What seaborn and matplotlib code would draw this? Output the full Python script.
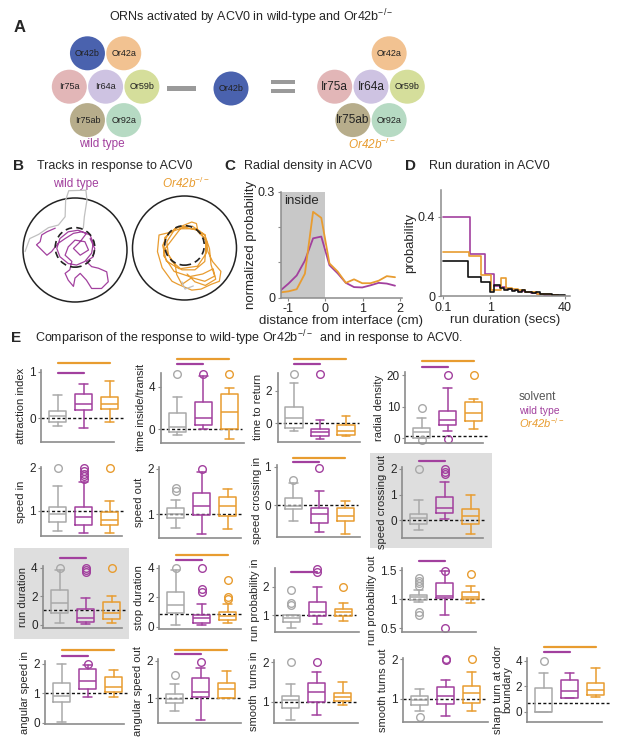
import numpy as np
import pandas as pd
import seaborn as sns
import matplotlib.pyplot as plt
from matplotlib.patches import Ellipse, Rectangle, Circle
from matplotlib.ticker import NullLocator
from matplotlib.transforms import blended_transform_factory

sns.set_style("ticks")
plt.rcParams['font.family'] = ['Liberation Sans', 'DejaVu Sans']
plt.rcParams['mathtext.fontset'] = 'custom'
plt.rcParams['mathtext.rm'] = 'Liberation Sans'
plt.rcParams['mathtext.it'] = 'Liberation Sans:italic'

MAG = '#a2409e'
ORA = '#e89c30'
GRY = '#a9a9a9'
AXC = '#8c8c8c'

# ---- panel A: ORNs
orn_names = ['Or42b', 'Or42a', 'Ir75a', 'Ir64a', 'Or59b', 'Ir75ab', 'Or92a']
orn_colors = ['#4a62ae', '#f2c291', '#e2b6b7', '#cec3e2', '#d5de9b', '#b7ad8b', '#b6dac3']
orn_slots = [(0.5, 0), (1.5, 0), (0, 1), (1, 1), (2, 1), (0.5, 2), (1.5, 2)]
orn_big_in_mutant = ['Ir75a', 'Ir64a', 'Ir75ab']

# ---- panel B: example tracks (arena radius = 1)
solvent_track = [(-0.96, -0.03), (-0.87, 0.22), (-0.70, 0.30), (-0.51, 0.43), (-0.32, 0.48),
                 (-0.19, 0.64), (-0.18, 0.96), (-0.12, 1.14), (0.21, 1.15), (0.23, 0.96),
                 (0.18, 0.64), (0.16, 0.42)]
wt_track = [(-0.38, 0.42), (-0.54, 0.35), (-0.64, 0.29), (-0.67, 0.16), (-0.74, 0.10), (-0.64, 0.0),
            (-0.54, -0.10), (-0.45, -0.03), (-0.38, 0.06), (-0.32, 0.13), (-0.19, 0.22), (-0.03, 0.32),
            (0.13, 0.35), (0.29, 0.29), (0.35, 0.13), (0.32, -0.06), (0.19, -0.22), (0.03, -0.29),
            (-0.13, -0.26), (-0.29, -0.13), (-0.35, 0.03), (-0.29, 0.22), (-0.13, 0.35), (0.06, 0.38),
            (0.22, 0.32), (0.10, 0.16), (-0.03, 0.03), (0.10, -0.10), (0.26, 0.0), (0.19, 0.16),
            (0.0, 0.19), (-0.13, 0.06), (-0.19, -0.10), (-0.06, -0.22), (-0.10, -0.38), (-0.19, -0.45),
            (-0.13, -0.58), (-0.03, -0.70), (0.0, -0.54), (0.10, -0.45), (0.22, -0.58), (0.32, -0.74),
            (0.51, -0.74), (0.64, -0.61), (0.61, -0.42), (0.45, -0.35), (0.32, -0.32), (0.22, -0.22),
            (0.35, -0.13), (0.38, 0.03), (0.29, 0.22)]
mut_track = [(-0.24, 0.31), (-0.49, 0.25), (-0.52, -0.07), (-0.43, -0.38), (-0.24, -0.64), (-0.12, -0.70),
             (0.14, -0.81), (0.32, -0.79), (0.51, -0.70), (0.67, -0.64), (0.70, -0.45), (0.54, -0.26),
             (0.45, -0.07), (0.42, 0.15), (0.26, 0.31), (0.23, 0.47), (0.14, 0.50), (-0.18, 0.37),
             (-0.34, 0.12), (-0.31, -0.13), (-0.18, -0.32), (-0.15, -0.51), (-0.05, -0.70), (0.14, -0.57),
             (0.39, -0.64), (0.58, -0.54), (0.51, -0.32), (0.48, -0.01), (0.39, 0.25), (0.20, 0.37),
             (-0.08, 0.37), (-0.37, -0.01), (-0.24, -0.26), (-0.05, -0.42), (0.20, -0.42), (0.39, -0.26),
             (0.42, 0.12), (0.29, 0.33), (0.01, 0.40), (-0.30, 0.30), (-0.42, 0.05), (-0.35, -0.25),
             (-0.10, -0.40), (0.25, -0.35), (0.42, -0.10), (0.40, 0.25), (0.15, 0.42), (-0.15, 0.40),
             (-0.38, 0.20), (-0.40, -0.15), (-0.20, -0.45), (0.10, -0.55), (0.35, -0.50), (0.55, -0.40),
             (0.60, -0.60), (0.40, -0.72), (0.20, -0.65), (0.05, -0.50)]
mut_solvent_track = [(-0.05, -0.65), (0.01, -0.79), (0.17, -0.73)]

# ---- panel C: radial density
dist_cm = [-1.21, -0.99, -0.77, -0.55, -0.33, -0.11, 0.11, 0.33, 0.55, 0.77, 0.99, 1.21, 1.43, 1.65, 1.87]
radial_wt = [0.020, 0.040, 0.063, 0.105, 0.168, 0.173, 0.092, 0.069, 0.042, 0.030, 0.029, 0.035, 0.042, 0.040, 0.034]
radial_mut = [0.015, 0.018, 0.024, 0.068, 0.243, 0.226, 0.097, 0.074, 0.042, 0.052, 0.041, 0.041, 0.048, 0.061, 0.058]

# ---- panel D: run duration histograms
run_edges_wt = [0.1, 0.38, 0.78, 1.2, 1.6, 2.2, 3, 4, 5.5, 7.5, 10, 14, 20, 28, 40]
run_prob_wt = [0.40, 0.21, 0.11, 0.05, 0.045, 0.035, 0.03, 0.025, 0.02, 0.015, 0.01, 0.007, 0.004, 0.002]
run_edges_mut = [0.1, 0.36, 0.64, 1.05, 1.7, 2.2, 3, 4, 5.5, 7.5, 10, 14, 20, 28, 40]
run_prob_mut = [0.22, 0.20, 0.105, 0.03, 0.09, 0.04, 0.035, 0.03, 0.022, 0.018, 0.012, 0.008, 0.004, 0.002]
run_edges_solv = [0.1, 0.34, 0.64, 1.0, 1.22, 1.65, 2.0, 2.4, 2.9, 3.4, 4, 4.8, 5.7, 6.8, 8, 9.5,
                  11.5, 14, 17, 21, 26, 32, 40]
run_prob_solv = [0.175, 0.097, 0.07, 0.02, 0.055, 0.04, 0.03, 0.035, 0.025, 0.03, 0.02, 0.028, 0.018,
                 0.022, 0.014, 0.018, 0.01, 0.012, 0.008, 0.007, 0.005, 0.004]

# ---- panel E: box summaries [whislo, q1, median, q3, whishi] for solvent, wild type, Or42b-/-
attraction_stats = [[-0.17, -0.07, 0.06, 0.16, 0.50], [-0.21, 0.18, 0.31, 0.52, 0.73], [-0.07, 0.21, 0.30, 0.46, 0.80]]
attraction_fliers = [[], [], []]
time_inside_stats = [[-0.53, -0.22, 0.19, 1.50, 3.06], [0.05, 0.41, 1.09, 2.59, 5.0], [-0.94, 0.0, 1.65, 3.28, 3.84]]
time_inside_fliers = [[5.15], [5.15], [5.15]]
time_return_stats = [[-0.47, -0.31, 0.31, 1.02, 2.45], [-0.98, -0.78, -0.51, -0.35, 0.20], [-0.78, -0.72, -0.47, -0.10, 0.45]]
time_return_fliers = [[3.0], [3.0], []]
radial_stats = [[0.0, 0.0, 2.1, 3.2, 6.3], [2.3, 4.2, 5.8, 8.7, 15.8], [2.8, 5.5, 7.9, 11.6, 12.3]]
radial_fliers = [[9.7, -0.4], [20.0, -0.3], [20.0]]
speed_in_stats = [[0.53, 0.73, 0.92, 1.09, 1.59], [0.48, 0.67, 0.85, 1.09, 1.67], [0.48, 0.67, 0.79, 0.98, 1.22]]
speed_in_fliers = [[2.0], [2.0, 1.94, 1.87, 1.81, 1.75], [2.0]]
speed_out_stats = [[0.70, 0.91, 1.0, 1.13, 1.32], [0.56, 0.98, 1.19, 1.46, 1.94], [0.68, 0.95, 1.19, 1.37, 1.55]]
speed_out_fliers = [[1.57, 1.51], [2.0], []]
cross_in_stats = [[-0.43, -0.10, -0.02, 0.19, 0.57], [-0.71, -0.48, -0.24, -0.09, 0.37], [-0.77, -0.42, -0.28, -0.07, 0.10]]
cross_in_fliers = [[0.65], [0.96], []]
cross_out_stats = [[-0.39, -0.17, 0.09, 0.24, 0.78], [0.03, 0.26, 0.48, 0.91, 1.50], [-0.55, -0.17, 0.17, 0.42, 1.0]]
cross_out_fliers = [[2.0], [2.0, 1.9, 1.8], []]
run_dur_stats = [[0.12, 0.82, 1.52, 2.45, 3.85], [0.05, 0.19, 0.47, 1.12, 1.87], [0.12, 0.40, 0.82, 1.63, 2.0]]
run_dur_fliers = [[4.0], [4.0, 3.85, 3.7], [4.0]]
stop_dur_stats = [[0.11, 0.9, 1.47, 2.33, 3.84], [0.11, 0.23, 0.57, 0.79, 1.52], [0.23, 0.45, 0.75, 1.02, 1.52]]
stop_dur_fliers = [[4.0], [4.0, 2.55, 2.33], [3.17, 2.03, 1.88]]
run_in_stats = [[0.53, 0.76, 0.91, 1.0, 1.0], [0.68, 0.98, 1.09, 1.47, 2.0], [0.79, 0.98, 1.09, 1.21, 1.41]]
run_in_fliers = [[1.41, 1.35, 1.88], [2.61, 2.53], [2.0]]
run_out_stats = [[0.95, 0.98, 1.03, 1.07, 1.16], [0.72, 1.02, 1.06, 1.28, 1.48], [0.94, 1.0, 1.03, 1.12, 1.23]]
run_out_fliers = [[1.36, 1.32, 1.27, 1.23, 0.78, 0.73], [1.48, 0.5], [1.43]]
ang_in_stats = [[0.04, 0.72, 0.89, 1.34, 2.0], [0.87, 1.15, 1.41, 1.81, 1.94], [0.87, 1.05, 1.22, 1.54, 1.79]]
ang_in_fliers = [[], [2.0], []]
ang_out_stats = [[0.66, 0.87, 0.98, 1.11, 1.38], [0.42, 1.04, 1.18, 1.54, 1.80], [1.0, 1.0, 1.25, 1.42, 1.73]]
ang_out_fliers = [[1.63], [1.96], []]
smooth_in_stats = [[0.53, 0.85, 1.03, 1.15, 1.44], [0.66, 0.98, 1.25, 1.47, 1.75], [0.92, 1.02, 1.11, 1.21, 1.49]]
smooth_in_fliers = [[2.0], [2.0], []]
smooth_out_stats = [[0.7, 0.85, 0.97, 1.08, 1.26], [0.57, 0.86, 1.06, 1.29, 1.49], [0.7, 0.89, 1.15, 1.32, 1.69]]
smooth_out_fliers = [[0.55], [2.02, 1.98], [2.0]]
sharp_stats = [[0.0, 0.0, 0.0, 1.84, 3.02], [1.06, 1.06, 1.63, 2.5, 3.02], [1.18, 1.31, 1.71, 2.24, 3.47]]
sharp_fliers = [[4.0], [], []]

group_colors = [GRY, MAG, ORA]

W, H = 617, 750
fig = plt.figure(figsize=(W / 100, H / 100), dpi=100)

canvas = fig.add_axes([0, 0, 1, 1])
canvas.set_xlim(0, W)
canvas.set_ylim(H, 0)
canvas.axis('off')


def px_axes(left, top, right, bottom):
    return fig.add_axes([left / W, 1 - bottom / H, (right - left) / W, (bottom - top) / H])


MUT = 'Or42b$^{-/-}$'

# ---------------- A
canvas.text(20, 27, 'A', fontsize=12, fontweight='bold', ha='center', va='center')
canvas.text(251, 17, 'ORNs activated by ACV0 in wild-type and Or42b$^{-/-}$', fontsize=9,
            ha='center', va='center')
dx, dy = 36.3, 33.4
for x0, skip in [(69.3, None), (334.7, 'Or42b')]:
    for name, col, (c, r) in zip(orn_names, orn_colors, orn_slots):
        if name == skip:
            continue
        x, y = x0 + c * dx, 53.3 + r * dy
        canvas.add_patch(Ellipse((x, y), 35, 34, color=col, lw=0))
        fs = 8.5 if (skip and name in orn_big_in_mutant) else 6.5
        canvas.text(x, y, name, fontsize=fs, ha='center', va='center', color='#222222')
canvas.add_patch(Rectangle((167, 86), 29, 4.5, color='#9a9a9a', lw=0))
canvas.add_patch(Ellipse((231, 88.5), 35, 34, color=orn_colors[0], lw=0))
canvas.text(231, 88.5, orn_names[0], fontsize=6.5, ha='center', va='center', color='#222222')
canvas.add_patch(Rectangle((271, 80), 24, 3.6, color='#9a9a9a', lw=0))
canvas.add_patch(Rectangle((271, 89.3), 24, 3.6, color='#9a9a9a', lw=0))
canvas.text(102, 144, 'wild type', fontsize=8.5, color=MAG, ha='center', va='center')
canvas.text(372, 144, MUT, fontsize=8.5, color=ORA, style='italic', ha='center', va='center')

# ---------------- titles B C D
for letter, lx, title, tx in [('B', 19, 'Tracks in response to ACV0', 37),
                              ('C', 230, 'Radial density in ACV0', 244),
                              ('D', 410, 'Run duration in ACV0', 429)]:
    canvas.text(lx, 166, letter, fontsize=11, fontweight='bold', ha='center', va='center')
    canvas.text(tx, 166, title, fontsize=9, ha='left', va='center')

# ---------------- B
r_px = 52
for cx, cy, tracks, label, lcol, lst in [
        (75, 250, [(solvent_track, '#c0c0c0'), (wt_track, MAG)], 'wild type', MAG, 'normal'),
        (184.5, 248, [(mut_track, ORA), (mut_solvent_track, '#c0c0c0')], MUT, ORA, 'italic')]:
    axb = px_axes(cx - 55, cy - 65, cx + 55, cy + 55)
    axb.set_xlim(-55 / r_px, 55 / r_px)
    axb.set_ylim(-55 / r_px, 65 / r_px)
    axb.axis('off')
    axb.add_patch(Circle((0, 0), 1, fill=False, ec='#222222', lw=1.1))
    for tr, col in tracks:
        xs, ys = zip(*tr)
        axb.plot(xs, ys, color=col, lw=0.9, clip_on=False)
    axb.add_patch(Circle((0, 0.05), 0.38, fill=False, ec='#222222', lw=1.2, ls=(0, (4, 2.5)), zorder=5))
    canvas.text(cx + 1, 183.5, label, fontsize=8.5, color=lcol, style=lst, ha='center', va='center')

# ---------------- C
axc = px_axes(280.7, 191.7, 401.7, 297.7)
axc.axvspan(-1.2, 0, color='#c8c8c8', lw=0)
sns.lineplot(x=dist_cm, y=radial_wt, color=MAG, lw=1.3, ax=axc)
sns.lineplot(x=dist_cm, y=radial_mut, color=ORA, lw=1.3, ax=axc)
axc.set_xlim(-1.2, 2.05)
axc.set_ylim(0, 0.3)
axc.set_yticks([0, 0.1, 0.2, 0.3])
axc.set_yticklabels(['0', '', '', '0.3'])
axc.set_xticks([-1, 0, 1, 2])
axc.set_xticklabels(['-1', '0', '1', '2'])
axc.text(-1.12, 0.292, 'inside', fontsize=9.5, va='top', ha='left')
axc.set_ylabel('normalized probability', fontsize=9.5, labelpad=1)
axc.set_xlabel('distance from interface (cm)', fontsize=9.5, labelpad=0)
canvas.text(340, 215, 'wild type', fontsize=8, color=MAG, va='center')
canvas.text(340, 229, MUT, fontsize=8, color=ORA, style='italic', va='center')

# ---------------- D
axd = px_axes(440.7, 190, 570, 296)
for edges, probs, col in [(run_edges_wt, run_prob_wt, MAG), (run_edges_mut, run_prob_mut, ORA),
                          (run_edges_solv, run_prob_solv, '#111111')]:
    sns.lineplot(x=edges, y=probs + probs[-1:], color=col, lw=1.2, drawstyle='steps-post',
                 estimator=None, ax=axd)
axd.set_xscale('log')
axd.set_xlim(0.088, 51)
axd.set_ylim(0, 0.535)
axd.set_xticks([0.1, 1, 40])
axd.set_xticklabels(['0.1', '1', '40'])
axd.xaxis.set_minor_locator(NullLocator())
axd.set_yticks([0, 0.4])
axd.set_yticklabels(['0', '0.4'])
axd.set_ylabel('probability', fontsize=9.5, labelpad=1)
axd.set_xlabel('run duration (secs)', fontsize=9.5, labelpad=0)
canvas.text(508, 211.5, 'solvent', fontsize=8, color='#444444', va='center')
canvas.text(508, 222.5, 'wild type', fontsize=8, color=MAG, va='center')
canvas.text(508, 234.5, MUT, fontsize=8, color=ORA, style='italic', va='center')

for ax in (axc, axd):
    sns.despine(ax=ax)
    for s in ('left', 'bottom'):
        ax.spines[s].set_color(AXC)
        ax.spines[s].set_linewidth(1.1)
    ax.tick_params(labelsize=9, length=2.5, pad=1.5, color=AXC)

# ---------------- E
canvas.text(16, 338.5, 'E', fontsize=11, fontweight='bold', ha='center', va='center')
canvas.text(35, 338.5, 'Comparison of the response to wild-type Or42b$^{-/-}$  and in response to ACV0.',
            fontsize=9, ha='left', va='center')
canvas.add_patch(Rectangle((370, 453), 122, 94.7, color='#dedede', lw=0))
canvas.add_patch(Rectangle((13.8, 548), 115.2, 91, color='#dedede', lw=0))
canvas.text(519, 397.5, 'solvent', fontsize=8.5, color='#555555', va='center')
canvas.text(519, 410.5, 'wild type', fontsize=7.5, color=MAG, va='center')
canvas.text(519, 423.5, MUT, fontsize=8, color=ORA, style='italic', va='center')

panels = [
    ('attraction index', attraction_stats, attraction_fliers, (41.3, 370, 114.1, 441.7), (-0.5, 1.04), [0, 1], 0, (372.7, 363)),
    ('time inside/transit', time_inside_stats, time_inside_fliers, (160.6, 372.7, 244, 442.7), (-1.26, 5.3), [0, 4], 0, (364.3, 359)),
    ('time to return', time_return_stats, time_return_fliers, (277.5, 372.7, 360, 441.7), (-1.13, 3.1), [0, 2], 0, (364.3, 359)),
    ('radial density', radial_stats, radial_fliers, (405.4, 371.7, 483.3, 443.3), (-1.6, 21.1), [0, 10, 20], 0.75, (366.7, 361)),
    ('speed in', speed_in_stats, speed_in_fliers, (41.3, 466.7, 122, 536), (0.41, 2.03), [1, 2], 1, (None, None)),
    ('speed out', speed_out_stats, speed_out_fliers, (159.4, 466.7, 240.9, 537.7), (0.48, 2.05), [1, 2], 1, (None, None)),
    ('speed crossing in', cross_in_stats, cross_in_fliers, (276.7, 465, 360.1, 536.7), (-0.83, 1.05), [0, 1], 0, (462, 458.3)),
    ('speed crossing out', cross_out_stats, cross_out_fliers, (402.2, 466.7, 483.3, 537.7), (-0.69, 2.09), [0, 1, 2], 0, (461, None)),
    ('run duration', run_dur_stats, run_dur_fliers, (43.3, 565.7, 122, 627.7), (-0.19, 4.15), [0, 2, 4], 1.05, (557.7, None)),
    ('stop duration', stop_dur_stats, stop_dur_fliers, (159.4, 565.7, 240.9, 629), (-0.16, 4.15), [0, 2, 4], 0.85, (559.7, 555)),
    ('run probability in', run_in_stats, run_in_fliers, (274.7, 568.3, 358.9, 631.7), (0.41, 2.65), [1, 2], 1, (572.3, None)),
    ('run probability out', run_out_stats, run_out_fliers, (402.2, 568.3, 476.2, 632.3), (0.43, 1.53), [0.5, 1, 1.5], 1, (561, None)),
    ('angular speed in', ang_in_stats, ang_in_fliers, (45.3, 661, 124, 724), (-0.04, 2.09), [0, 1, 2], 1, (656, 650)),
    ('angular speed out', ang_out_stats, ang_out_fliers, (158.2, 659, 240.9, 723.3), (0.33, 2.05), [1, 2], 1, (654.3, 650)),
    ('smooth  turns in', smooth_in_stats, smooth_in_fliers, (274.3, 660, 358.1, 723.3), (0.45, 2.06), [1, 2], 1, (None, None)),
    ('smooth turns out', smooth_out_stats, smooth_out_fliers, (403.4, 658.3, 488, 721.7), (0.42, 2.03), [1, 2], 1, (None, None)),
    ('sharp turn at odor\nboundary', sharp_stats, sharp_fliers, (527.4, 658.3, 602.1, 721.7), (-0.79, 4.2), [0, 2, 4], 0.7, (651.7, 646.7)),
]

step_px, first_px = 26.0, 16.5
for label, stats, fliers, (l, t, r, b), ylim, yticks, ref, (mag_y, ora_y) in panels:
    ax = px_axes(l, t, r, b)
    ax.set_facecolor('none')
    xlo = 1 - first_px / step_px
    ax.set_xlim(xlo, xlo + (r - l) / step_px)
    ax.set_ylim(*ylim)
    for i, (st, fl, col) in enumerate(zip(stats, fliers, group_colors)):
        box = dict(whislo=st[0], q1=st[1], med=st[2], q3=st[3], whishi=st[4], fliers=fl)
        art = ax.bxp([box], positions=[i + 1], widths=0.66, capwidths=0.34, showfliers=True,
                     manage_ticks=False,
                     boxprops=dict(color=col, lw=1.1), whiskerprops=dict(color=col, lw=1.1),
                     capprops=dict(color=col, lw=1.1), medianprops=dict(color=col, lw=1.1),
                     flierprops=dict(marker='o', mfc='none', mec=col, ms=5.5, mew=1.0))
        for lines in art.values():
            for a in lines:
                a.set_clip_on(False)
    ax.plot([xlo, 3.5], [ref, ref], color='#111111', lw=1.0, ls=(0, (2.2, 1.6)), clip_on=False, zorder=1)
    tr = blended_transform_factory(ax.transData, ax.transAxes)
    for yb, x_end, col in [(mag_y, 2, MAG), (ora_y, 3, ORA)]:
        if yb is not None:
            ax.plot([1, x_end], [(b - yb) / (b - t)] * 2, color=col, lw=1.6, transform=tr, clip_on=False)
    sns.despine(ax=ax)
    for s in ('left', 'bottom'):
        ax.spines[s].set_color(AXC)
        ax.spines[s].set_linewidth(1.2)
    ax.set_xticks([])
    ax.set_yticks(yticks)
    ax.set_yticklabels([f'{v:g}' for v in yticks])
    ax.tick_params(axis='y', labelsize=8.5, length=2.5, pad=1.5, color=AXC)
    ax.set_ylabel(label, fontsize=8, labelpad=2, linespacing=0.95)

fig.savefig('out.png', dpi=100)
